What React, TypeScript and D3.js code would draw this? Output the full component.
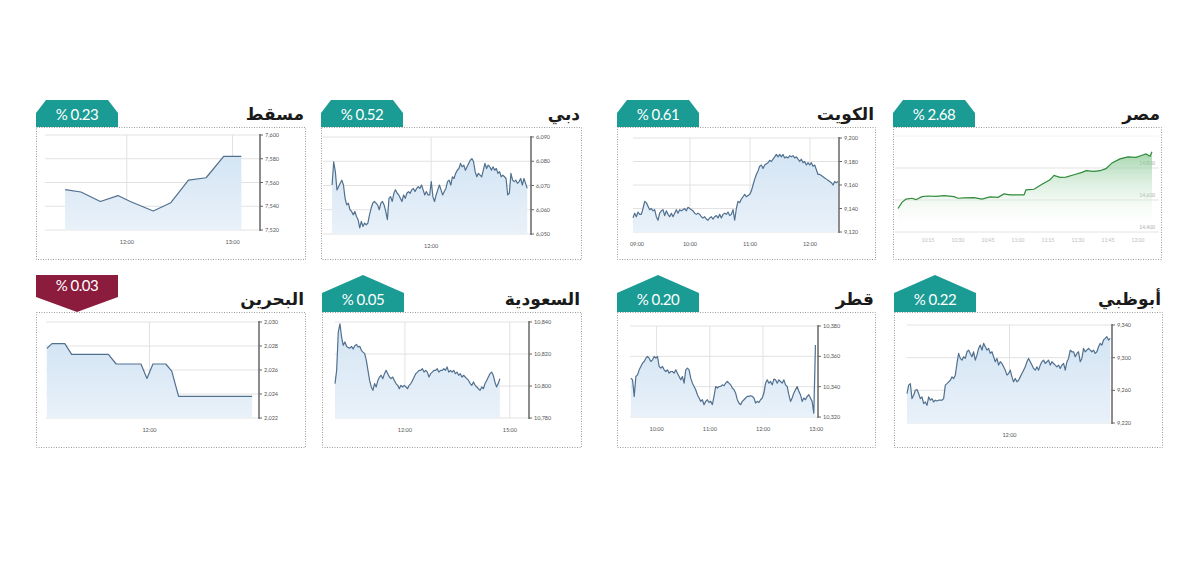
import * as d3 from "d3";

// ---- data ----
const muscatTimes = ["11:25", "11:34", "11:45", "11:55", "12:02", "12:15", "12:25", "12:35", "12:45", "12:55", "13:05"];
const muscatValues = [7554, 7552, 7544, 7549, 7544, 7536, 7543, 7562, 7564, 7582, 7582];

const dubaiOpen = "10:00";
const dubaiStep = 1.97; // minutes between samples
const dubaiValues = [
  6070.2, 6079.8, 6075.7, 6068.2, 6069.5, 6070.9, 6072.2, 6070.2, 6064.7, 6062.0, 6062.7, 6060.0, 6059.3, 6057.9,
  6059.3, 6057.2, 6055.9, 6052.5, 6055.2, 6053.1, 6054.5, 6053.8, 6054.5, 6057.9, 6060.6, 6062.7, 6063.4, 6062.7,
  6062.0, 6060.0, 6062.7, 6063.4, 6062.0, 6059.3, 6055.9, 6064.7, 6065.4, 6063.4, 6066.8, 6068.2, 6066.8, 6066.1,
  6064.7, 6063.4, 6066.1, 6064.7, 6066.8, 6067.5, 6066.8, 6068.2, 6068.8, 6067.5, 6068.8, 6069.5, 6068.8, 6070.2,
  6068.2, 6066.1, 6067.5, 6066.1, 6066.1, 6071.6, 6065.4, 6063.4, 6066.1, 6068.2, 6070.2, 6068.2, 6066.1, 6067.5,
  6068.8, 6071.6, 6072.2, 6070.2, 6073.6, 6072.9, 6075.0, 6076.3, 6077.0, 6079.1, 6077.7, 6078.4, 6076.3, 6077.7,
  6079.1, 6080.4, 6081.1, 6079.8, 6075.7, 6073.6, 6075.0, 6074.3, 6073.6, 6076.3, 6079.1, 6077.0, 6078.4, 6077.7,
  6076.3, 6077.7, 6076.3, 6077.0, 6075.0, 6075.7, 6073.6, 6074.3, 6073.6, 6072.9, 6066.1, 6066.8, 6075.0, 6072.2,
  6071.6, 6072.2, 6070.9, 6071.6, 6072.9, 6070.2, 6072.9, 6070.9, 6068.8,
];

const kuwaitOpen = "09:03";
const kuwaitStep = 1.667;
const kuwaitValues = [
  9132, 9136, 9133, 9137, 9135, 9135, 9140, 9146, 9145, 9142, 9139, 9140, 9138, 9139, 9133, 9130, 9136, 9138, 9139,
  9134, 9138, 9135, 9133, 9136, 9133, 9136, 9139, 9136, 9139, 9138, 9139, 9140, 9138, 9141, 9140, 9139, 9138, 9136,
  9135, 9136, 9135, 9133, 9132, 9133, 9131, 9130, 9132, 9133, 9131, 9133, 9134, 9132, 9135, 9132, 9135, 9136, 9135,
  9137, 9134, 9135, 9139, 9130, 9140, 9146, 9145, 9148, 9150, 9152, 9150, 9151, 9152, 9155, 9160, 9165, 9169, 9172,
  9176, 9177, 9174, 9177, 9178, 9179, 9181, 9180, 9182, 9184, 9186, 9184, 9186, 9184, 9186, 9183, 9184, 9183, 9185,
  9184, 9185, 9183, 9184, 9182, 9180, 9182, 9179, 9180, 9177, 9179, 9177, 9179, 9176, 9177, 9173, 9169, 9169, 9168,
  9167, 9166, 9165, 9164, 9163, 9162, 9160, 9163, 9162, 9163,
];

const egyptOpen = "10:00";
const egyptMinutes = [0, 2, 4, 7, 9, 12, 15, 19, 23, 28, 30, 33, 38, 42, 46, 50, 53, 56, 60, 63, 64, 68, 72, 76, 78, 81, 84, 88, 92, 94, 98, 101, 104, 107, 111, 115, 119, 122, 124, 126, 127];
const egyptValues = [
  14547, 14585, 14606, 14611, 14602, 14621, 14625, 14623, 14627, 14621, 14611, 14613, 14615, 14606, 14619, 14617,
  14638, 14632, 14632, 14632, 14663, 14667, 14699, 14726, 14754, 14741, 14743, 14758, 14773, 14783, 14779, 14783,
  14796, 14832, 14857, 14869, 14867, 14880, 14888, 14874, 14901,
];

const bahrainOpen = "10:00";
const bahrainMinutes = [0, 6, 21, 29, 72, 81, 110, 117, 124, 139, 146, 154, 240];
const bahrainValues = [2027.8, 2028.2, 2028.2, 2027.3, 2027.3, 2026.5, 2026.5, 2025.3, 2026.5, 2026.5, 2025.9, 2023.8, 2023.8];

const saudiOpen = "10:00";
const saudiStep = 2.83;
const saudiValues = [
  10801.5, 10809.8, 10833.7, 10838.9, 10830.6, 10825.4, 10827.5, 10824.8, 10824.0, 10823.7, 10824.8, 10823.1,
  10825.2, 10826.0, 10824.4, 10824.8, 10822.3, 10821.2, 10820.2, 10816.0, 10809.8, 10803.5, 10799.4, 10797.3,
  10801.5, 10799.4, 10803.5, 10805.6, 10806.7, 10804.6, 10807.7, 10809.8, 10807.7, 10805.6, 10804.6, 10805.6,
  10803.5, 10801.5, 10800.4, 10798.3, 10800.4, 10799.4, 10800.4, 10799.4, 10798.3, 10800.4, 10801.5, 10803.5,
  10805.6, 10807.7, 10808.7, 10809.8, 10809.8, 10810.8, 10808.7, 10809.8, 10808.7, 10805.6, 10807.7, 10808.7,
  10809.8, 10809.8, 10810.8, 10808.7, 10809.8, 10809.8, 10810.8, 10809.8, 10811.9, 10808.7, 10809.8, 10808.7,
  10809.8, 10807.7, 10808.7, 10806.7, 10807.7, 10805.6, 10806.7, 10805.6, 10804.6, 10803.5, 10801.5, 10800.4,
  10802.5, 10800.4, 10799.4, 10798.3, 10797.3, 10799.4, 10798.3, 10801.5, 10803.5, 10805.6, 10807.7, 10808.7,
  10806.7, 10802.5, 10799.4, 10801.5, 10804.6,
];

const qatarOpen = "09:31";
const qatarStep = 1.875;
const qatarValues = [
  10345.6, 10344.5, 10333.6, 10346.7, 10347.8, 10351.1, 10353.3, 10355.5, 10356.6, 10358.8, 10359.9, 10358.8,
  10356.6, 10357.7, 10359.9, 10358.8, 10359.9, 10353.3, 10352.2, 10353.3, 10351.1, 10350.0, 10351.1, 10348.9,
  10350.0, 10350.0, 10348.9, 10351.1, 10348.9, 10346.7, 10344.5, 10346.7, 10342.3, 10351.1, 10352.2, 10351.1,
  10345.6, 10342.3, 10340.1, 10338.0, 10334.7, 10332.5, 10330.3, 10331.4, 10328.1, 10330.3, 10331.4, 10329.6,
  10330.3, 10328.1, 10333.6, 10340.1, 10339.1, 10340.1, 10340.1, 10341.2, 10340.6, 10342.3, 10343.4, 10342.3,
  10341.2, 10339.1, 10338.0, 10335.8, 10331.4, 10329.2, 10328.1, 10330.3, 10331.4, 10332.5, 10333.6, 10333.6,
  10334.0, 10333.6, 10332.5, 10329.2, 10330.3, 10329.6, 10331.4, 10332.5, 10335.8, 10342.3, 10344.5, 10342.3,
  10343.4, 10341.2, 10345.0, 10344.5, 10342.3, 10344.5, 10343.4, 10342.3, 10344.5, 10341.2, 10340.1, 10334.7,
  10330.3, 10332.5, 10335.8, 10338.0, 10340.1, 10336.9, 10334.7, 10330.3, 10332.5, 10331.4, 10333.6, 10334.7,
  10332.5, 10330.3, 10322.6, 10367.5,
];

const abuDhabiOpen = "10:00";
const abuDhabiStep = 1.95;
const abuDhabiValues = [
  9256.0, 9266.3, 9268.3, 9249.9, 9254.0, 9260.1, 9261.0, 9256.0, 9249.9, 9251.9, 9243.8, 9245.8, 9241.7, 9251.9,
  9247.9, 9249.9, 9245.8, 9247.9, 9247.0, 9247.9, 9247.9, 9247.9, 9249.9, 9266.3, 9268.3, 9270.4, 9272.4, 9276.5,
  9274.5, 9278.6, 9292.9, 9305.2, 9299.1, 9297.0, 9301.1, 9299.1, 9307.2, 9309.3, 9305.2, 9301.1, 9307.2, 9297.0,
  9303.1, 9311.3, 9315.4, 9309.3, 9317.5, 9313.4, 9309.3, 9311.3, 9305.2, 9307.2, 9301.1, 9295.0, 9299.1, 9290.9,
  9295.0, 9292.9, 9288.8, 9284.7, 9278.6, 9280.6, 9284.7, 9276.5, 9270.4, 9274.5, 9270.4, 9272.4, 9276.5, 9280.6,
  9284.7, 9288.8, 9295.0, 9299.1, 9295.0, 9290.9, 9286.8, 9284.7, 9288.8, 9284.7, 9290.9, 9295.0, 9297.0, 9292.9,
  9295.0, 9297.0, 9290.9, 9295.0, 9292.9, 9290.9, 9288.8, 9290.9, 9286.8, 9290.9, 9292.9, 9284.7, 9295.0, 9299.1,
  9309.3, 9307.2, 9307.2, 9301.1, 9305.2, 9307.2, 9295.0, 9299.1, 9311.3, 9307.2, 9309.3, 9311.3, 9309.3, 9307.2,
  9309.3, 9305.2, 9307.2, 9313.4, 9317.5, 9315.4, 9321.6, 9323.6, 9325.7, 9321.6, 9323.6,
];

const names = ["مسقط", "دبي", "الكويت", "مصر", "البحرين", "السعودية", "قطر", "أبوظبي"];
const changes = ["0.23", "0.52", "0.61", "2.68", "0.03", "0.05", "0.20", "0.22"];
const directions = ["up", "up", "up", "up", "down", "up", "up", "up"];

const muscatTicks = [7520, 7540, 7560, 7580, 7600];
const dubaiTicks = [6050, 6060, 6070, 6080, 6090];
const kuwaitTicks = [9120, 9140, 9160, 9180, 9200];
const egyptTicks = [14400, 14600, 14800, 15000];
const bahrainTicks = [2022, 2024, 2026, 2028, 2030];
const saudiTicks = [10780, 10800, 10820, 10840];
const qatarTicks = [10320, 10340, 10360, 10380];
const abuDhabiTicks = [9220, 9260, 9300, 9340];

const muscatHours = ["12:00", "13:00"];
const dubaiHours = ["12:00"];
const kuwaitHours = ["09:00", "10:00", "11:00", "12:00"];
const egyptHours = ["10:15", "10:30", "10:45", "11:00", "11:15", "11:30", "11:45", "12:00"];
const bahrainHours = ["12:00"];
const saudiHours = ["12:00", "15:00"];
const qatarHours = ["10:00", "11:00", "12:00", "13:00"];
const abuDhabiHours = ["12:00"];

// ---- helpers ----
const toMin = (s: string) => +s.slice(0, 2) * 60 + +s.slice(3);
const regular = (open: string, step: number, vals: number[]) =>
  vals.map((v, i) => [toMin(open) + i * step, v] as [number, number]);
const irregular = (open: string, mins: number[], vals: number[]) =>
  vals.map((v, i) => [toMin(open) + mins[i], v] as [number, number]);

type Panel = {
  box: [number, number, number, number];
  plot: [number, number, number, number];
  xDomain: [number, number];
  yTicks: number[];
  hours: string[];
  points: [number, number][];
  green?: boolean;
  row: number;
};

const panels: Panel[] = [
  { row: 0, box: [36, 127, 269, 132], plot: [45, 135, 260, 230], xDomain: [673.6, 795.6], yTicks: muscatTicks, hours: muscatHours, points: muscatTimes.map((t, i) => [toMin(t), muscatValues[i]]) },
  { row: 0, box: [321, 127, 260, 132], plot: [323, 137, 531, 234], xDomain: [589, 841], yTicks: dubaiTicks, hours: dubaiHours, points: regular(dubaiOpen, dubaiStep, dubaiValues) },
  { row: 0, box: [617, 127, 258, 132], plot: [633, 138, 839, 232], xDomain: [543, 749], yTicks: kuwaitTicks, hours: kuwaitHours, points: regular(kuwaitOpen, kuwaitStep, kuwaitValues) },
  { row: 0, box: [893, 127, 268, 132], plot: [898, 136, 1152, 232], xDomain: [600, 727], yTicks: egyptTicks, hours: egyptHours, points: irregular(egyptOpen, egyptMinutes, egyptValues), green: true },
  { row: 1, box: [36, 312, 269, 135], plot: [46, 322, 259, 418], xDomain: [599, 848], yTicks: bahrainTicks, hours: bahrainHours, points: irregular(bahrainOpen, bahrainMinutes, bahrainValues) },
  { row: 1, box: [322, 312, 259, 135], plot: [335, 322, 529, 418], xDomain: [600, 933], yTicks: saudiTicks, hours: saudiHours, points: regular(saudiOpen, saudiStep, saudiValues) },
  { row: 1, box: [617, 312, 258, 135], plot: [630, 326, 818, 417], xDomain: [570, 782], yTicks: qatarTicks, hours: qatarHours, points: regular(qatarOpen, qatarStep, qatarValues) },
  { row: 1, box: [894, 312, 268, 135], plot: [907, 325, 1112, 423], xDomain: [600, 840], yTicks: abuDhabiTicks, hours: abuDhabiHours, points: regular(abuDhabiOpen, abuDhabiStep, abuDhabiValues) },
];

const fmt = d3.format(",");
const TEAL = "#1a9b93";
const RED = "#8c1c3e";
const LINE = "#51708f";

function Chart({ p, name, change, dir }: { p: Panel; name: string; change: string; dir: string }) {
  const [bx, by, bw, bh] = p.box;
  const [l, t, r, b] = p.plot;
  const x = d3.scaleLinear().domain(p.xDomain).range([l, r]);
  const y = d3.scaleLinear().domain(d3.extent(p.yTicks) as [number, number]).range([b, t]);
  const line = d3.line<[number, number]>().x((d) => x(d[0])).y((d) => y(d[1]));
  const area = d3.area<[number, number]>().x((d) => x(d[0])).y0(b).y1((d) => y(d[1]));

  const w = 82;
  let badge: number[][];
  if (dir === "down") {
    badge = [[bx, by - 37], [bx + w, by - 37], [bx + w, by - 15], [bx + w / 2, by], [bx, by - 15]];
  } else if (p.row === 0) {
    // top row: roof cut flat
    badge = [[bx, by], [bx, by - 14], [bx + 10, by - 27], [bx + w - 10, by - 27], [bx + w, by - 14], [bx + w, by]];
  } else {
    badge = [[bx, by], [bx, by - 19], [bx + w / 2, by - 37], [bx + w, by - 19], [bx + w, by]];
  }

  return (
    <g>
      <rect x={bx + 0.5} y={by + 0.5} width={bw} height={bh} fill="#fff" stroke="#9a9a9a" strokeDasharray="1,1.5" />
      <polygon points={badge.map((q) => q.join(",")).join(" ")} fill={dir === "up" ? TEAL : RED} />
      <text x={bx + w / 2} y={dir === "up" ? by - 7 : by - 21} textAnchor="middle" fill="#fff" fontFamily="Lato" fontSize={15} letterSpacing={-0.5}>
        {`% ${change}`}
      </text>
      <text x={bx + bw - 1} y={by - 7} textAnchor="end" fill="#1a1a1a" fontFamily="DejaVu Sans" fontWeight="bold" fontSize={17}>
        {name}
      </text>

      {p.green ? (
        <g>
          {p.yTicks.map((v, i) => (
            <g key={v}>
              <line x1={bx + 2} x2={bx + bw - 2} y1={y(v)} y2={y(v)} stroke={i === p.yTicks.length - 1 ? "#f2f2f2" : "#e4e4e4"} />
              {i < p.yTicks.length - 1 && (
                <text x={bx + bw - 6} y={y(v) - 3} textAnchor="end" fill="#aaa" fontFamily="Lato" fontSize={5}>
                  {fmt(v)}
                </text>
              )}
            </g>
          ))}
          <path d={area(p.points) ?? ""} fill="url(#greenFill)" />
          <path d={line(p.points) ?? ""} fill="none" stroke="#2f8a3a" strokeWidth={1.2} />
          {p.hours.map((h) => (
            <text key={h} x={x(toMin(h))} y={b + 10} textAnchor="middle" fill="#bbb" fontFamily="Lato" fontSize={5}>
              {h}
            </text>
          ))}
        </g>
      ) : (
        <g>
          {p.yTicks.map((v) => (
            <line key={v} x1={l} x2={r} y1={y(v)} y2={y(v)} stroke="#e2e2e2" />
          ))}
          {p.hours
            .map((h) => x(toMin(h)))
            .filter((xx) => xx > l + 2 && xx < r - 2)
            .map((xx) => (
              <line key={xx} x1={xx} x2={xx} y1={t} y2={b} stroke="#e2e2e2" />
            ))}
          <path d={area(p.points) ?? ""} fill="url(#blueFill)" />
          <path d={line(p.points) ?? ""} fill="none" stroke={LINE} strokeWidth={1.2} strokeLinejoin="round" />
          <line x1={r} x2={r} y1={t - 1} y2={b + 1} stroke="#666" strokeWidth={1.5} />
          {p.yTicks.map((v) => (
            <g key={v}>
              <line x1={r} x2={r + 3} y1={y(v)} y2={y(v)} stroke="#666" />
              <text x={r + 5} y={y(v) + 2} fill="#555" fontFamily="Lato" fontSize={5.5}>
                {fmt(v)}
              </text>
            </g>
          ))}
          {p.hours.map((h) => (
            <text key={h} x={Math.max(x(toMin(h)), l + 4)} y={b + 14} textAnchor="middle" fill="#555" fontFamily="Lato" fontSize={5.5}>
              {h}
            </text>
          ))}
        </g>
      )}
    </g>
  );
}

export default function App() {
  return (
    <svg width={1200} height={576} style={{ position: "absolute", left: 0, top: 0, background: "#fff" }}>
      <defs>
        <linearGradient id="blueFill" x1="0" y1="0" x2="0" y2="1">
          <stop offset="0" stopColor="#d4e5f4" />
          <stop offset="1" stopColor="#e9f1f9" />
        </linearGradient>
        <linearGradient id="greenFill" x1="0" y1="0" x2="0" y2="1">
          <stop offset="0" stopColor="#7cc38a" stopOpacity={0.7} />
          <stop offset="1" stopColor="#ffffff" stopOpacity={0} />
        </linearGradient>
      </defs>
      {panels.map((p, i) => (
        <Chart key={i} p={p} name={names[i]} change={changes[i]} dir={directions[i]} />
      ))}
    </svg>
  );
}
